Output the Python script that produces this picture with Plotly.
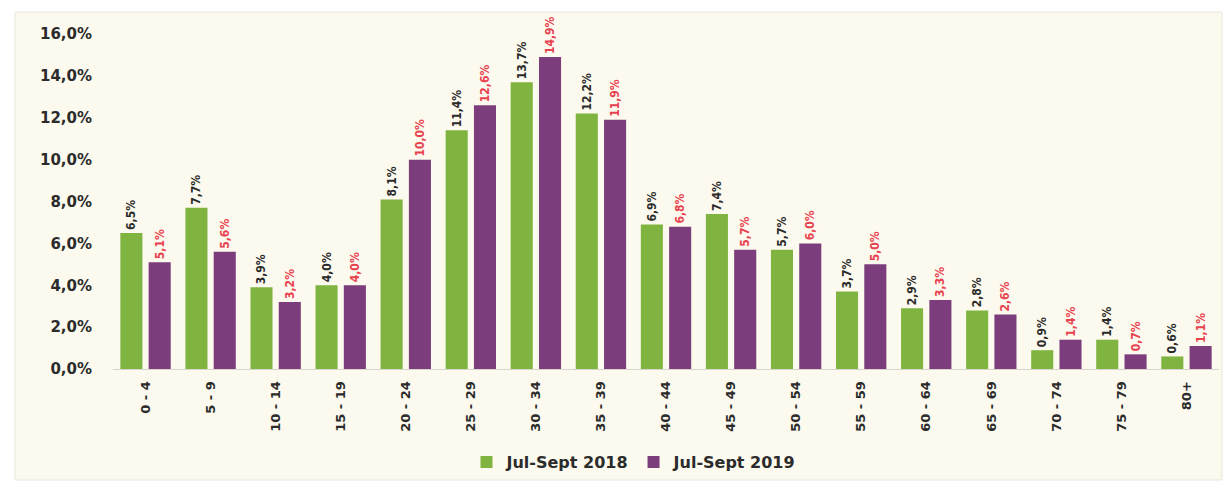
import plotly.graph_objects as go

categories = ["0 - 4", "5 - 9", "10 - 14", "15 - 19", "20 - 24", "25 - 29", "30 - 34", "35 - 39",
              "40 - 44", "45 - 49", "50 - 54", "55 - 59", "60 - 64", "65 - 69", "70 - 74", "75 - 79", "80+"]
values_2018 = [6.5, 7.7, 3.9, 4.0, 8.1, 11.4, 13.7, 12.2, 6.9, 7.4, 5.7, 3.7, 2.9, 2.8, 0.9, 1.4, 0.6]
values_2019 = [5.1, 5.6, 3.2, 4.0, 10.0, 12.6, 14.9, 11.9, 6.8, 5.7, 6.0, 5.0, 3.3, 2.6, 1.4, 0.7, 1.1]
y_ticks = [0, 2, 4, 6, 8, 10, 12, 14, 16]

def fmt(v):
    return f"{v:.1f}%".replace(".", ",")

FONT = "DejaVu Sans, sans-serif"
FONT_C = "DejaVu Sans Condensed, DejaVu Sans, sans-serif"
W, H = 1232, 483
L, R, T, B = 113, 13, 34, 114
pw, ph = W - L - R, H - T - B

fig = go.Figure()
fig.add_trace(go.Bar(
    x=categories, y=values_2018, name="Jul-Sept 2018",
    marker=dict(color="#80b441", line=dict(width=0)),
    text=[fmt(v) for v in values_2018], textposition="outside", textangle=-90,
    constraintext="none", cliponaxis=False,
    textfont=dict(family=FONT_C, size=12, color="#2b2b2b", weight="bold"),
))
fig.add_trace(go.Bar(
    x=categories, y=values_2019, name="Jul-Sept 2019",
    marker=dict(color="#7b3d7c", line=dict(width=0)),
    text=[fmt(v) for v in values_2019], textposition="outside", textangle=-90,
    constraintext="none", cliponaxis=False,
    textfont=dict(family=FONT_C, size=12, color="#e8424f", weight="bold"),
))

fig.update_layout(
    width=W, height=H,
    margin=dict(l=L, r=R, t=T, b=B, autoexpand=False),
    paper_bgcolor="white", plot_bgcolor="rgba(0,0,0,0)",
    barmode="group", bargap=0.13, bargroupgap=0.22,
    showlegend=True,
    legend=dict(orientation="h", x=(634 - L) / pw, xanchor="center",
                y=-(462 - (T + ph)) / ph, yanchor="middle",
                font=dict(family=FONT, size=16, color="#2b2b2b", weight="bold"),
                bgcolor="rgba(0,0,0,0)", itemwidth=30, tracegroupgap=0),
    font=dict(family=FONT, color="#2b2b2b"),
    shapes=[dict(type="rect", xref="paper", yref="paper", layer="below",
                 x0=(15 - L) / pw, x1=(1222 - L) / pw,
                 y0=-(480 - (T + ph)) / ph, y1=((T + ph) - 12) / ph,
                 fillcolor="#fcfaee", line=dict(color="#e8e6dc", width=1))],
)
fig.update_xaxes(
    tickangle=-90, tickfont=dict(family=FONT, size=13, color="#2b2b2b", weight="bold"),
    showline=True, linecolor="#d8d6cc", linewidth=1, ticks="", showgrid=False,
    ticklabelstandoff=6,
)
fig.update_yaxes(
    range=[0, 16], tickvals=y_ticks, ticktext=[fmt(v) for v in y_ticks],
    tickfont=dict(family=FONT, size=15, color="#2b2b2b", weight="bold"),
    showgrid=False, zeroline=False, showline=False, ticks="",
    ticklabelstandoff=20,
)

fig.write_html("out.html", config={"displayModeBar": False},
               post_script="document.body.style.margin='0';document.body.style.overflow='hidden';")
